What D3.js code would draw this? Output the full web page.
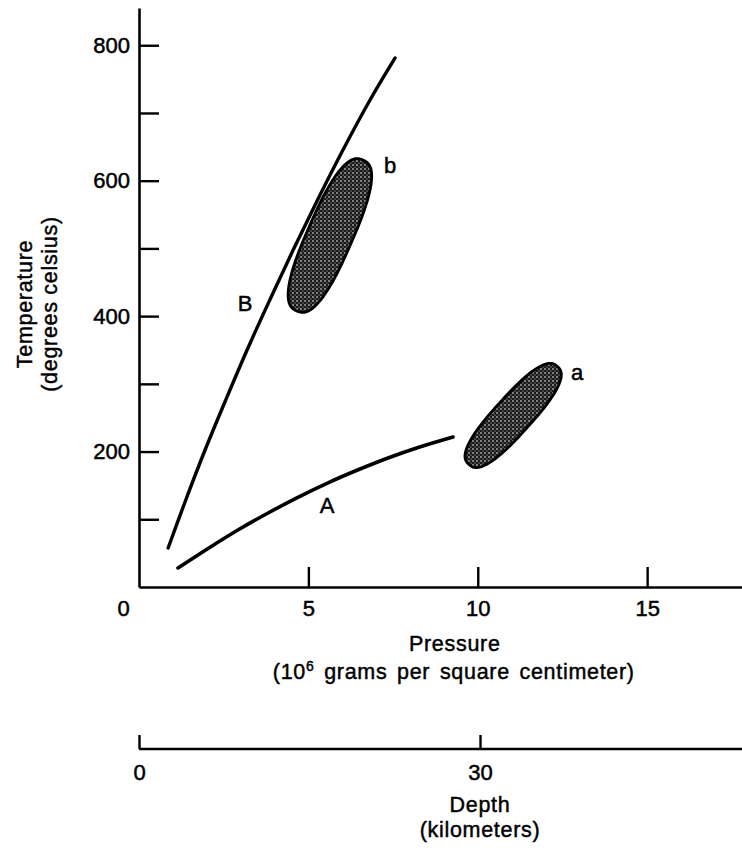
<!DOCTYPE html>
<html>
<head>
<meta charset="utf-8">
<script src="https://cdn.jsdelivr.net/npm/d3@7"></script>
<style>
  body { margin: 0; background: #fff; }
  svg text { font-family: "Liberation Sans", Arial, Helvetica, sans-serif; fill: #000; }
</style>
</head>
<body>
<svg id="chart" width="742" height="850"></svg>
<script>
// ---------- data ----------
const pressureTicks = [0, 5, 10, 15];          // 10^6 g/cm^2
const temperatureTicks = [100, 200, 300, 400, 500, 600, 700, 800];
const temperatureLabels = [200, 400, 600, 800];
const depthTicks = [0, 30];                    // km

// curve A: [pressure, temperature]
const curveA = [
  [1.15, 28.1], [2.04, 57.0], [2.92, 84.2], [3.81, 109.3], [4.69, 132.5],
  [5.58, 153.9], [6.47, 173.1], [7.35, 190.5], [8.24, 206.0], [9.27, 221.5]
];
// curve B: [pressure, temperature]
const curveB = [
  [0.86, 57.6], [1.38, 128.5], [1.95, 202.3], [2.56, 276.1], [3.19, 350.0],
  [3.86, 423.8], [4.55, 497.6], [5.27, 571.5], [6.02, 645.3], [6.82, 719.1],
  [7.56, 781.2]
];
// stippled fields: the two tips of each elongated field [pressure, temperature]
const fieldA = [[9.74, 181.0], [12.35, 325.6]];
const fieldB = [[4.66, 407.6], [6.61, 630.5]];

const curveLabels = [
  { text: "A", p: 5.55, t: 121 },
  { text: "B", p: 3.13, t: 419 },
  { text: "a", p: 12.93, t: 317 },
  { text: "b", p: 7.41, t: 623 }
];

// ---------- layout ----------
const svg = d3.select("#chart");
const x = d3.scaleLinear().domain([0, 17.8]).range([139, 742]);
const y = d3.scaleLinear().domain([0, 855]).range([587, 8]);
const depth = d3.scaleLinear().domain([0, 30]).range([139, 480]);
const depthAxisY = 749;

const defs = svg.append("defs");
const pat = defs.append("pattern")
  .attr("id", "stipple").attr("width", 4).attr("height", 4)
  .attr("patternUnits", "userSpaceOnUse");
pat.append("rect").attr("width", 4).attr("height", 4).attr("fill", "#1a1a1a");
pat.append("circle").attr("cx", 1).attr("cy", 1).attr("r", 0.8).attr("fill", "#fff");
pat.append("circle").attr("cx", 3).attr("cy", 3).attr("r", 0.6).attr("fill", "#c8c8c8");

// ---------- axes ----------
const yAxis = d3.axisLeft(y)
  .tickValues(temperatureTicks)
  .tickSizeInner(-20).tickSizeOuter(0).tickPadding(9)
  .tickFormat(d => temperatureLabels.includes(d) ? d : "");
const gy = svg.append("g").attr("transform", `translate(${x(0)},0)`).call(yAxis);

const xAxis = d3.axisBottom(x)
  .tickValues(pressureTicks)
  .tickSizeInner(-20).tickSizeOuter(0).tickPadding(13)
  .tickFormat(d => d);
const gx = svg.append("g").attr("transform", `translate(0,${y(0)})`).call(xAxis);
gx.selectAll(".tick").filter(d => d === 0).select("line").remove();
gx.selectAll(".tick").filter(d => d === 0).select("text").attr("x", -16);

const dAxis = d3.axisBottom(depth)
  .tickValues(depthTicks)
  .tickSizeInner(-14).tickSizeOuter(0).tickPadding(15)
  .tickFormat(d => d);
const gd = svg.append("g").attr("transform", `translate(0,${depthAxisY})`).call(dAxis);
gd.select(".domain").attr("d", `M${depth(0)},0H742`);

[gx, gy, gd].forEach(g => {
  g.select(".domain").attr("stroke", "#000").attr("stroke-width", 2.6);
  g.selectAll(".tick line").attr("stroke", "#000").attr("stroke-width", 2.4);
  g.selectAll(".tick text").attr("font-size", 22).attr("fill", "#000")
    .attr("stroke", "#000").attr("stroke-width", 0.5)
    .attr("font-family", '"Liberation Sans", Arial, sans-serif');
});

// ---------- curves ----------
const line = d3.line()
  .x(d => x(d[0])).y(d => y(d[1]))
  .curve(d3.curveCatmullRom.alpha(0.5));

svg.append("path").datum(curveA).attr("d", line)
  .attr("fill", "none").attr("stroke", "#000").attr("stroke-width", 3.6)
  .attr("stroke-linecap", "round");
svg.append("path").datum(curveB).attr("d", line)
  .attr("fill", "none").attr("stroke", "#000").attr("stroke-width", 3.4)
  .attr("stroke-linecap", "round");

// ---------- stippled fields (rounded, elongated outlines between two tips) ----------
function fieldOutline(ends, halfWidth, n) {
  const x1 = x(ends[0][0]), y1 = y(ends[0][1]);
  const x2 = x(ends[1][0]), y2 = y(ends[1][1]);
  const cxp = (x1 + x2) / 2, cyp = (y1 + y2) / 2;
  const a = Math.hypot(x2 - x1, y2 - y1) / 2;
  const ux = (x2 - x1) / (2 * a), uy = (y2 - y1) / (2 * a);
  const nx = -uy, ny = ux;
  const pts = d3.range(0, 2 * Math.PI, Math.PI / 90).map(t => {
    const c = Math.cos(t), s = Math.sin(t);
    const u = a * Math.sign(c) * Math.pow(Math.abs(c), 2 / n);
    const v = halfWidth * Math.sign(s) * Math.pow(Math.abs(s), 2 / n);
    return [cxp + u * ux + v * nx, cyp + u * uy + v * ny];
  });
  return d3.line().curve(d3.curveLinearClosed)(pts);
}
[[fieldB, 22.5], [fieldA, 18.5]].forEach(([f, w]) => {
  svg.append("path").attr("d", fieldOutline(f, w, 2.6))
    .attr("fill", "url(#stipple)").attr("stroke", "#000").attr("stroke-width", 2.8)
    .attr("stroke-linejoin", "round");
});

// ---------- curve / field labels ----------
svg.selectAll("text.lab").data(curveLabels).join("text")
  .attr("class", "lab")
  .attr("x", d => x(d.p)).attr("y", d => y(d.t))
  .attr("dy", "0.36em")
  .attr("text-anchor", "middle")
  .attr("font-size", 22)
  .attr("stroke", "#000").attr("stroke-width", 0.5)
  .text(d => d.text);

// ---------- titles ----------
const title = svg.append("g").attr("font-size", 21.5).attr("letter-spacing", 0.7)
  .attr("stroke", "#000").attr("stroke-width", 0.45);
const yt = title.append("text").attr("text-anchor", "middle")
  .attr("transform", "translate(32,304) rotate(-90)");
yt.append("tspan").attr("x", 0).attr("y", 0).text("Temperature");
const yt2 = title.append("text").attr("text-anchor", "middle")
  .attr("transform", "translate(57,304) rotate(-90)");
yt2.append("tspan").attr("x", 0).attr("y", 0).text("(degrees celsius)");

const cx = x(10) - 24;
title.append("text").attr("x", cx + 1).attr("y", 651).attr("text-anchor", "middle").text("Pressure");
const pt = title.append("text").attr("x", cx).attr("y", 679).attr("text-anchor", "middle")
  .attr("word-spacing", 3);
pt.append("tspan").text("(10");
pt.append("tspan").attr("font-size", 14).attr("dy", -8).text("6");
pt.append("tspan").attr("dy", 8).text(" grams per square centimeter)");

title.append("text").attr("x", depth(30)).attr("y", 812).attr("text-anchor", "middle").text("Depth");
title.append("text").attr("x", depth(30)).attr("y", 837).attr("text-anchor", "middle").text("(kilometers)");
</script>
</body>
</html>
